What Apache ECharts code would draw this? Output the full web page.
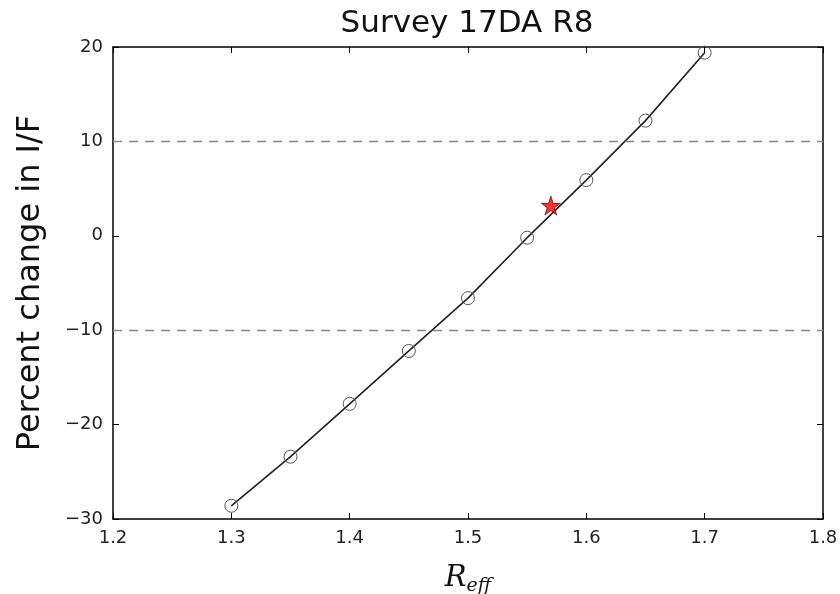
<!DOCTYPE html>
<html>
<head>
<meta charset="utf-8">
<script src="https://cdn.jsdelivr.net/npm/echarts@6/dist/echarts.min.js"></script>
<style>
  html, body { margin: 0; padding: 0; background: #fff; }
  #chart { width: 840px; height: 594px; }
</style>
</head>
<body>
<div id="chart"></div>
<script>
// Effective radius samples and the percent change in I/F they produce
const reff = [1.30, 1.35, 1.40, 1.45, 1.50, 1.55, 1.60, 1.65, 1.70];
const pctChange = [-28.6, -23.4, -17.8, -12.2, -6.6, -0.2, 5.9, 12.2, 19.4];

// Best-fit point
const bestReff = [1.57];
const bestPct = [3.2];

// Tolerance band
const bandLevels = [-10, 10];

const xTicks = [1.2, 1.3, 1.4, 1.5, 1.6, 1.7, 1.8];
const yTicks = [-30, -20, -10, 0, 10, 20];

const starPath = 'path://M50,0 L61.8,35.1 L98.9,35.1 L68.9,56.8 L80.3,91.9 L50,70.2 L19.7,91.9 L31.1,56.8 L1.1,35.1 L38.2,35.1 Z';

const tickFont = { fontFamily: 'DejaVu Sans', fontSize: 18, color: '#222' };
const fmtY = v => (v < 0 ? '\u2212' + Math.abs(v) : String(v));

const chart = echarts.init(document.getElementById('chart'), null, { renderer: 'canvas' });

const axisLine = { show: true, onZero: false, lineStyle: { color: '#000', width: 1.5 } };
const axisTick = { show: true, inside: true, length: 6, lineStyle: { color: '#000', width: 1 } };

chart.setOption({
  animation: false,
  backgroundColor: '#fff',
  title: {
    text: 'Survey 17DA R8',
    left: 462, top: 3, textAlign: 'center',
    textStyle: { fontFamily: 'DejaVu Sans', fontSize: 31, fontWeight: 'normal', color: '#111' }
  },
  grid: { left: 113, right: 17, top: 47, bottom: 75, containLabel: false, outerBoundsMode: 'none' },
  xAxis: [
    {
      type: 'value', min: xTicks[0], max: xTicks[xTicks.length - 1], interval: 0.1,
      position: 'bottom',
      axisLine, axisTick, splitLine: { show: false },
      axisLabel: Object.assign({ margin: 10, formatter: v => v.toFixed(1) }, tickFont),
      name: '{r|R}{s|eff}', nameLocation: 'middle', nameGap: 42,
      nameTextStyle: {
        rich: {
          r: { fontFamily: 'DejaVu Serif', fontStyle: 'italic', fontSize: 29, color: '#111' },
          s: { fontFamily: 'DejaVu Serif', fontStyle: 'italic', fontSize: 19, color: '#111', padding: [16, 0, 0, 0] }
        }
      }
    },
    {
      type: 'value', min: xTicks[0], max: xTicks[xTicks.length - 1], interval: 0.1,
      position: 'top',
      axisLine, axisTick, splitLine: { show: false }, axisLabel: { show: false }
    }
  ],
  yAxis: [
    {
      type: 'value', min: yTicks[0], max: yTicks[yTicks.length - 1], interval: 10,
      position: 'left',
      axisLine, axisTick, splitLine: { show: false },
      axisLabel: Object.assign({ margin: 10, formatter: fmtY }, tickFont),
      name: 'Percent change in I/F', nameLocation: 'middle', nameGap: 66,
      nameTextStyle: { fontFamily: 'DejaVu Sans', fontSize: 32, color: '#111' }
    },
    {
      type: 'value', min: yTicks[0], max: yTicks[yTicks.length - 1], interval: 10,
      position: 'right',
      axisLine, axisTick, splitLine: { show: false }, axisLabel: { show: false }
    }
  ],
  series: [
    {
      type: 'line',
      data: reff.map((x, i) => [x, pctChange[i]]),
      xAxisIndex: 0, yAxisIndex: 0,
      symbol: 'circle', symbolSize: 13,
      lineStyle: { color: '#222', width: 1.6 },
      itemStyle: { color: 'rgba(255,255,255,0)', borderColor: '#555', borderWidth: 1 },
      z: 3,
      markLine: {
        silent: true, symbol: ['none', 'none'], label: { show: false },
        lineStyle: { color: '#888', type: [9, 7], width: 1.3 },
        data: bandLevels.map(v => ({ yAxis: v }))
      }
    },
    {
      type: 'scatter',
      data: bestReff.map((x, i) => [x, bestPct[i]]),
      symbol: starPath, symbolSize: 19,
      itemStyle: { color: '#ff0000', borderColor: '#300', borderWidth: 0.8 },
      z: 5
    }
  ]
});
</script>
</body>
</html>
